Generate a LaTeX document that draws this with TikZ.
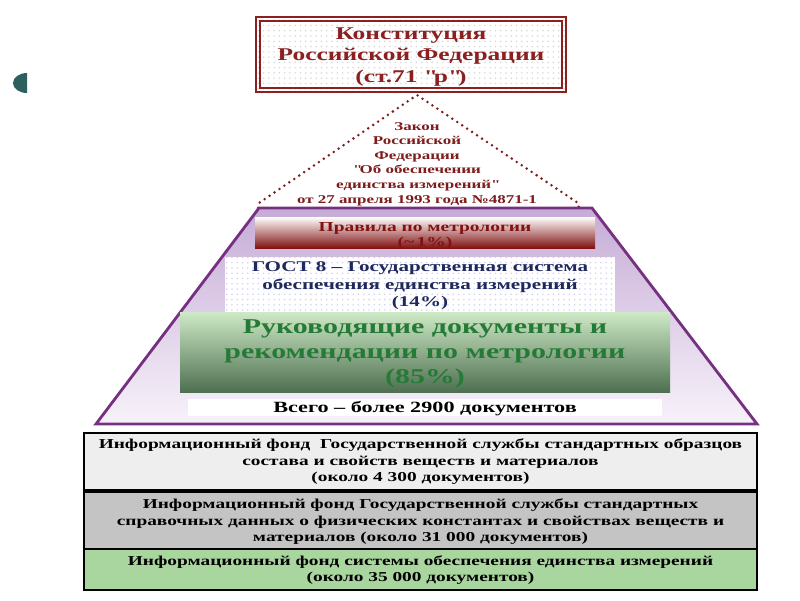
\documentclass[tikz,border=0pt]{standalone}
\usepackage{fontspec}
\setmainfont{Liberation Serif}[FakeStretch=1.42]
\usetikzlibrary{patterns}
\definecolor{konstred}{RGB}{140,32,32}
\definecolor{lawred}{RGB}{125,28,28}
\definecolor{pyrpurple}{RGB}{118,48,128}
\definecolor{pyrtop}{RGB}{198,172,214}
\definecolor{pyrbot}{RGB}{247,242,250}
\definecolor{rulered}{RGB}{130,18,18}
\definecolor{gostblue}{RGB}{30,40,92}
\definecolor{rdgreen}{RGB}{38,122,56}
\definecolor{rdtop}{RGB}{206,233,198}
\definecolor{rdbot}{RGB}{78,112,80}
\definecolor{infogray}{RGB}{238,238,238}
\definecolor{infodark}{RGB}{196,196,196}
\definecolor{infogreen}{RGB}{168,214,158}
\definecolor{bulletteal}{RGB}{45,95,95}

\tikzset{
  layertext/.style={inner sep=0pt, align=center,
    execute at begin node={\lineskiplimit=-100pt}},
  infobox/.style={draw=black, line width=1pt},
  infotext/.style={layertext, font=\bfseries\fontsize{7.75}{9.4}\selectfont},
}

\begin{document}
\begin{tikzpicture}[x=0.02cm, y=-0.02cm]
    \useasboundingbox (0,0) rectangle (800,600);

    % Bullet
    \fill[bulletteal] (27,93) arc[start angle=90, end angle=270, x radius=14, y radius=10] -- cycle;

    % Constitution
    \draw[konstred, line width=1.4pt, preaction={fill=white}, pattern=dots, pattern color=gray!30]
        (256,17) rectangle (566,92);
    \draw[konstred, line width=0.6pt] (260,21) rectangle (562,88);
    \node[layertext, text=konstred, font=\bfseries\fontsize{10.2}{12.4}\selectfont]
        (konst) at (411,57) {Конституция\\Российской Федерации\\(ст.71 \textquotedbl р\textquotedbl)};

    % Law triangle
    \draw[lawred, line width=1.6pt, line cap=round, dash pattern=on 0pt off 3.4pt]
        (258,208) -- (259,203) -- (417,95) -- (578,203) -- (579,208);
    \node[layertext, text=lawred, font=\bfseries\fontsize{6.8}{8.3}\selectfont]
        (zakon) at (417,164) {Закон\\Российской\\Федерации\\\textquotedbl Об обеспечении\\единства измерений\textquotedbl\\от 27 апреля 1993 года №4871-1};

    % Pyramid
    \draw[pyrpurple, line width=1.6pt, top color=pyrtop, bottom color=pyrbot]
        (259,208) -- (592,208) -- (757,424) -- (96,424) -- cycle;

    \shade[top color=white, middle color=rulered!22, bottom color=rulered] (255,217) rectangle (595,248);
    \node[layertext, text=rulered, font=\bfseries\fontsize{7.8}{8.6}\selectfont]
        (pravila) at (425,236) {Правила по метрологии\\(\textasciitilde\,1\%)};

    \fill[white, postaction={pattern=dots, pattern color=blue!18}] (225,257) rectangle (615,312);
    \node[layertext, text=gostblue, font=\bfseries\fontsize{8.45}{9.9}\selectfont]
        (gost) at (420,286) {ГОСТ 8 – Государственная система\\обеспечения единства измерений\\(14\%)};

    \shade[top color=rdtop, bottom color=rdbot] (180,312) rectangle (670,392);
    \node[layertext, text=rdgreen, font=\bfseries\fontsize{12}{14.4}\selectfont]
        (rukov) at (425,354) {Руководящие документы и\\рекомендации по метрологии\\(85\%)};

    \fill[white] (188,399) rectangle (662,416);
    \node[layertext, font=\bfseries\fontsize{8.9}{10}\selectfont]
        (vsego) at (425,409) {Всего – более 2900 документов};

    % Information funds
    \draw[infobox, fill=infogray] (84,433) rectangle (757,490);
    \node[infotext] (fond1) at (420.5,462)
        {Информационный фонд\ \ Государственной службы стандартных образцов\\состава и свойств веществ и материалов\\(около 4 300 документов)};
    \draw[infobox, fill=infodark] (84,492) rectangle (757,549);
    \node[infotext] (fond2) at (420.5,522)
        {Информационный фонд Государственной службы стандартных\\справочных данных о физических константах и свойствах веществ и\\материалов (около 31 000 документов)};
    \draw[infobox, fill=infogreen] (84,549) rectangle (757,590);
    \node[infotext] (fond3) at (420.5,570)
        {Информационный фонд системы обеспечения единства измерений\\(около 35 000 документов)};
\end{tikzpicture}
\end{document}
